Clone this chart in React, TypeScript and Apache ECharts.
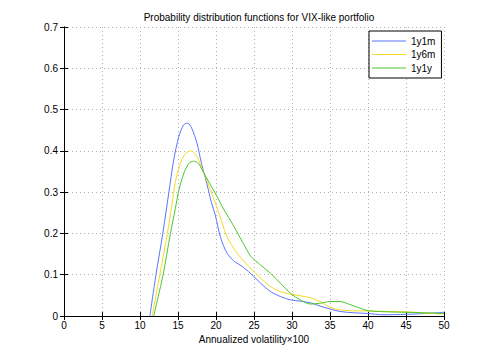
import React, { useEffect, useRef } from "react";
import * as echarts from "echarts";

const seriesNames = ["1y1m", "1y6m", "1y1y"];
const seriesColors = ["#5a74ff", "#f5d823", "#4cc62a"];

const blue1y1m: number[][] = [
  [11.3, 0], [12.1, 0.1], [13.0, 0.2], [13.8, 0.3], [14.43, 0.377], [15.1, 0.434], [15.74, 0.463],
  [16.26, 0.467], [16.8, 0.455], [17.5, 0.418], [18.1, 0.369], [18.8, 0.32], [19.4, 0.275],
  [19.9, 0.245], [20.6, 0.19], [21.4, 0.154], [22.3, 0.134], [23.6, 0.118], [24.9, 0.097],
  [25.9, 0.079], [27.2, 0.059], [28.5, 0.047], [29.8, 0.039], [31.1, 0.036], [32.4, 0.032],
  [33.7, 0.024], [35, 0.017], [36.3, 0.011], [38, 0.008], [40, 0.006], [42, 0.003], [45, 0.004],
  [48.5, 0.007], [50, 0.009],
];

const yellow1y6m: number[][] = [
  [11.6, 0], [12.6, 0.1], [13.6, 0.2], [14.2, 0.27], [14.65, 0.324], [15.3, 0.369], [15.96, 0.393],
  [16.7, 0.4], [17.4, 0.389], [18.1, 0.36], [18.8, 0.328], [19.65, 0.287], [20.5, 0.243],
  [21.4, 0.194], [22.7, 0.154], [24, 0.126], [24.6, 0.115], [25.9, 0.091], [27.2, 0.071],
  [28.5, 0.059], [29.8, 0.053], [31.1, 0.049], [32.4, 0.044], [33.7, 0.035], [35, 0.021],
  [36.3, 0.015], [37.6, 0.013], [40, 0.012], [42.5, 0.011], [45, 0.01], [47.5, 0.007], [50, 0.005],
];

const green1y1y: number[][] = [
  [11.8, 0], [13.04, 0.1], [14.0, 0.2], [14.65, 0.26], [15.09, 0.303], [15.74, 0.344], [16.4, 0.369],
  [17.04, 0.375], [17.7, 0.369], [18.35, 0.348], [19.2, 0.32], [20.1, 0.291], [21, 0.259],
  [22.3, 0.219], [24, 0.162], [24.6, 0.144], [25.9, 0.123], [27.2, 0.103], [28.5, 0.079],
  [29.8, 0.055], [31.1, 0.039], [32.4, 0.029], [33.7, 0.031], [35, 0.035], [36.3, 0.035],
  [37.6, 0.028], [38.5, 0.022], [40, 0.013], [42.8, 0.01], [45, 0.009], [47.2, 0.008], [50, 0.006],
];

const xMin = 0, xMax = 50, xStep = 5;
const yMin = 0, yMax = 0.7, yStep = 0.1;

const titleText = "Probability distribution functions for VIX-like portfolio";
const xAxisName = "Annualized volatility\u00d7100";

const FONT = "'Liberation Sans', Arial, Helvetica, sans-serif";

export default function App() {
  const ref = useRef<HTMLDivElement>(null);
  useEffect(() => {
    document.body.style.margin = "0";
    if (!ref.current) return;
    const chart = echarts.init(ref.current, undefined, { renderer: "svg" });
    const allData = [blue1y1m, yellow1y6m, green1y1y];
    const axisCommon = {
      axisLine: { show: true, lineStyle: { color: "#000", width: 1 } },
      axisTick: { show: true, inside: true, length: 4, lineStyle: { color: "#000" } },
    };
    chart.setOption({
      animation: false,
      backgroundColor: "#fff",
      textStyle: { fontFamily: FONT },
      title: {
        text: titleText,
        left: 254,
        top: 7,
        textAlign: "center",
        textStyle: { fontSize: 10, fontWeight: "normal", color: "#000", fontFamily: FONT },
      },
      grid: { left: 64, right: 47, top: 27, bottom: 39, containLabel: false },
      legend: {
        orient: "vertical",
        left: 369,
        top: 31,
        backgroundColor: "#fff",
        borderColor: "#000",
        borderWidth: 1,
        borderRadius: 0,
        padding: [4, 6, 4, 3],
        icon: "rect",
        itemWidth: 34,
        itemHeight: 1,
        itemGap: 1.5,
        textStyle: { fontSize: 10, color: "#000", fontFamily: FONT, lineHeight: 12 },
        data: seriesNames,
      },
      xAxis: [
        {
          type: "value", min: xMin, max: xMax, interval: xStep, position: "bottom",
          name: xAxisName, nameLocation: "middle", nameGap: 17,
          nameTextStyle: { fontSize: 10, color: "#000", fontFamily: FONT },
          ...axisCommon,
          axisLabel: { fontSize: 10, color: "#000", margin: 4, fontFamily: FONT },
          splitLine: { show: true, lineStyle: { color: "#b0b0b0", type: [1, 3], width: 1 } },
        },
        {
          type: "value", min: xMin, max: xMax, interval: xStep, position: "top",
          ...axisCommon, axisLabel: { show: false }, splitLine: { show: false },
        },
      ],
      yAxis: [
        {
          type: "value", min: yMin, max: yMax, interval: yStep, position: "left",
          ...axisCommon,
          axisLabel: { fontSize: 10, color: "#000", margin: 6, fontFamily: FONT },
          splitLine: { show: true, lineStyle: { color: "#b0b0b0", type: [1, 3], width: 1 } },
        },
        {
          type: "value", min: yMin, max: yMax, interval: yStep, position: "right",
          ...axisCommon, axisLabel: { show: false }, splitLine: { show: false },
        },
      ],
      series: seriesNames.map((name, i) => ({
        name,
        type: "line",
        data: allData[i],
        showSymbol: false,
        symbol: "none",
        smooth: 0.3,
        color: seriesColors[i],
        lineStyle: { width: 1, color: seriesColors[i] },
        z: 3 + i,
      })),
    });
    return () => chart.dispose();
  }, []);
  return (
    <div
      ref={ref}
      style={{ position: "fixed", left: 0, top: 0, width: 491, height: 355 }}
    />
  );
}
